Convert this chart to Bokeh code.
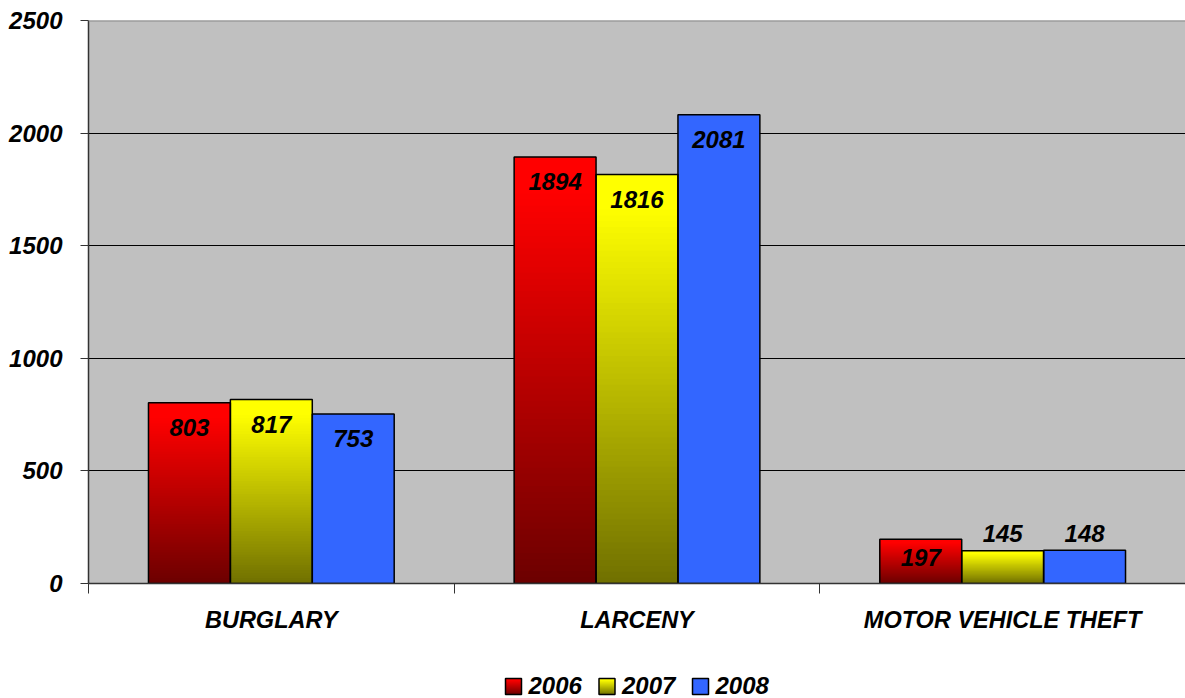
from bokeh.plotting import figure
from bokeh.layouts import column
from bokeh.models import Range1d, FixedTicker, Span, ColumnDataSource
from bokeh.core.properties import value
from bokeh.embed import file_html
from bokeh.resources import INLINE

categories = ["BURGLARY", "LARCENY", "MOTOR VEHICLE THEFT"]
years = ["2006", "2007", "2008"]
v2006 = [803, 1894, 197]
v2007 = [817, 1816, 145]
v2008 = [753, 2081, 148]
y_ticks = [0, 500, 1000, 1500, 2000, 2500]

series = [v2006, v2007, v2008]
offsets = [-0.224, 0.0, 0.224]
bar_w = 0.224
top_colors = [(255, 0, 0), (255, 255, 0), (51, 102, 255)]
bottom_colors = [(108, 0, 0), (112, 112, 0), (51, 102, 255)]

FONT = value("Liberation Sans")
W = 1185
H_MAIN, H_LEG = 650, 48
TOP, BOTTOM_BORDER, LEFT = 20, 67, 88
FRAME_H = H_MAIN - TOP - BOTTOM_BORDER
YMAX = 2500

p = figure(width=W, height=H_MAIN, x_range=Range1d(0, len(categories)), y_range=Range1d(0, YMAX),
           output_backend="svg", toolbar_location=None,
           min_border_left=LEFT, min_border_right=0, min_border_top=TOP,
           min_border_bottom=BOTTOM_BORDER,
           background_fill_color="#C0C0C0", border_fill_color="white")
p.outline_line_color = None


def hexc(c):
    return "#%02x%02x%02x" % tuple(int(round(x)) for x in c)


def grad(top, bot, t):
    if t < 0.08:
        return hexc(top)
    f = (t - 0.08) / 0.92
    return hexc([top[i] + (bot[i] - top[i]) * f for i in range(3)])


def gradient_rects(xc, width, bottom, height, s, n):
    """Nested rects (tallest first) giving a vertical gradient without seams."""
    L, R, T, B, C = [], [], [], [], []
    if top_colors[s] == bottom_colors[s]:
        return [xc - width / 2], [xc + width / 2], [bottom + height], [bottom], [hexc(top_colors[s])]
    for k in range(n):
        L.append(xc - width / 2); R.append(xc + width / 2)
        T.append(bottom + height * (1 - k / n)); B.append(bottom)
        C.append(grad(top_colors[s], bottom_colors[s], (k + 0.5) / n))
    return L, R, T, B, C


N = 70
for s, vals in enumerate(series):
    L, R, T, B, C = [], [], [], [], []
    for i, v in enumerate(vals):
        l, r, t, b, c = gradient_rects(i + 0.5 + offsets[s], bar_w, 0, v, s, N)
        L += l; R += r; T += t; B += b; C += c
    p.quad(left=L, right=R, top=T, bottom=B, fill_color=C, line_color=None)

# outlines
for s, vals in enumerate(series):
    xs = [i + 0.5 + offsets[s] for i in range(len(vals))]
    p.quad(left=[x - bar_w / 2 for x in xs], right=[x + bar_w / 2 for x in xs], top=vals, bottom=0,
           fill_color=None, line_color="black", line_width=1.5)

# data labels
lx, ly, lt, lo = [], [], [], []
ppu = FRAME_H / YMAX
for s, vals in enumerate(series):
    for i, v in enumerate(vals):
        lx.append(i + 0.5 + offsets[s]); ly.append(v); lt.append(str(v))
        h = v * ppu
        if h > 40:
            lo.append(min(25, h / 2 - 4))
        else:
            lo.append(-17)
src = ColumnDataSource(dict(x=lx, y=ly, t=lt, o=lo))
p.text(x="x", y="y", text="t", y_offset="o", source=src, text_font=FONT, text_font_style="bold italic",
       text_font_size="24px", text_align="center", text_baseline="middle", text_color="black")

# top border
p.add_layout(Span(location=YMAX, dimension="width", line_color="#8a8a8a", line_width=2))

# axes
p.yaxis.ticker = FixedTicker(ticks=y_ticks, minor_ticks=[])
p.yaxis.major_label_text_font = "Liberation Sans"
p.yaxis.major_label_text_font_style = "bold italic"
p.yaxis.major_label_text_font_size = "24px"
p.yaxis.major_label_text_color = "black"
p.yaxis.major_tick_out = 8
p.yaxis.major_tick_in = 0
p.yaxis.major_label_standoff = 18
p.yaxis.axis_line_color = "#333333"
p.yaxis.axis_line_width = 1.5
p.yaxis.major_tick_line_color = "#333333"

centers = [i + 0.5 for i in range(len(categories))]
p.xaxis.ticker = FixedTicker(ticks=centers, minor_ticks=list(range(len(categories) + 1)))
p.xaxis.major_label_overrides = {c: categories[i] for i, c in enumerate(centers)}
p.xaxis.major_label_text_font = "Liberation Sans"
p.xaxis.major_label_text_font_style = "bold italic"
p.xaxis.major_label_text_font_size = "23.5px"
p.xaxis.major_label_text_color = "black"
p.xaxis.major_tick_out = 0
p.xaxis.major_tick_in = 0
p.xaxis.minor_tick_out = 10
p.xaxis.minor_tick_in = 0
p.xaxis.major_label_standoff = 13
p.xaxis.axis_line_color = "#333333"
p.xaxis.axis_line_width = 1.5
p.xaxis.minor_tick_line_color = "#333333"

p.xgrid.visible = False
p.ygrid.grid_line_color = "black"
p.ygrid.grid_line_width = 1

# legend strip (pixel-unit figure, frame aligned with the main frame)
lg = figure(width=W, height=H_LEG, x_range=Range1d(LEFT, W), y_range=Range1d(0, H_LEG),
            output_backend="svg", toolbar_location=None, min_border=0, min_border_left=LEFT,
            background_fill_color="white", border_fill_color="white")
lg.axis.visible = False
lg.grid.visible = False
lg.outline_line_color = None

LEG_X0, LEG_STEP, SQ, LEG_Y, TXT_GAP = 505, 93.5, 16, 12, 7
for s, yr in enumerate(years):
    sx = LEG_X0 + s * LEG_STEP + SQ / 2
    l, r, t, b, c = gradient_rects(sx, SQ, LEG_Y - SQ / 2, SQ, s, 16)
    lg.quad(left=l, right=r, top=t, bottom=b, fill_color=c, line_color=None)
    lg.quad(left=[sx - SQ / 2], right=[sx + SQ / 2], top=[LEG_Y + SQ / 2], bottom=[LEG_Y - SQ / 2],
            fill_color=None, line_color="black", line_width=1.5)
lsrc = ColumnDataSource(dict(x=[LEG_X0 + s * LEG_STEP + SQ + TXT_GAP for s in range(len(years))],
                             y=[LEG_Y + 1] * len(years), t=years))
lg.text(x="x", y="y", text="t", source=lsrc, text_font=FONT, text_font_style="bold italic",
        text_font_size="24px", text_align="left", text_baseline="middle", text_color="black")

layout = column(p, lg, spacing=0)
open("out.html", "w").write(file_html(layout, INLINE))
